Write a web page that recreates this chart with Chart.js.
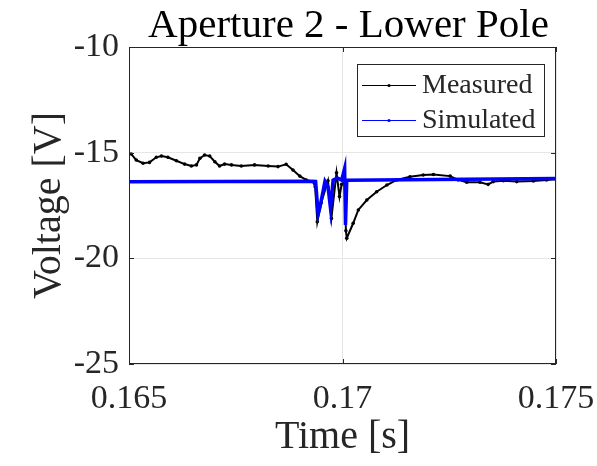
<!DOCTYPE html>
<html>
<head>
<meta charset="utf-8">
<script src="https://cdn.jsdelivr.net/npm/chart.js@4.4.1/dist/chart.umd.min.js"></script>
<style>
  html, body { margin: 0; padding: 0; background: #ffffff; }
  #wrap { width: 597px; height: 466px; }
</style>
</head>
<body>
<div id="wrap"><canvas id="c" width="597" height="466"></canvas></div>
<script>
// ---- Data ----
const titleText = "Aperture 2 - Lower Pole";
const xAxisTitle = "Time [s]";
const yAxisTitle = "Voltage [V]";
const seriesNames = ["Measured", "Simulated"];
const xTicks = [0.165, 0.17, 0.175];
const yTicks = [-25, -20, -15, -10];

const measuredTime = [
  0.16505, 0.16517, 0.16533, 0.16548, 0.16564, 0.16576, 0.16591, 0.16611, 0.1663, 0.16646,
  0.16658, 0.16666, 0.16677, 0.16689, 0.16701, 0.16712, 0.16724, 0.1674, 0.16763, 0.16794,
  0.16826, 0.16849, 0.16868, 0.16884, 0.169, 0.16915, 0.16931, 0.16936, 0.16941, 0.1695,
  0.16966, 0.16974, 0.16986, 0.16993, 0.16998, 0.17005, 0.17008, 0.1701, 0.17025, 0.17037,
  0.17057, 0.1708, 0.17104, 0.17127, 0.17158, 0.17189, 0.17213, 0.17252, 0.17271, 0.17291,
  0.17322, 0.17341, 0.17353, 0.17377, 0.17408, 0.17447, 0.17478, 0.175
];
const measuredVolt = [
  -15.06, -15.35, -15.50, -15.46, -15.22, -15.16, -15.22, -15.38, -15.54, -15.63,
  -15.58, -15.27, -15.11, -15.16, -15.43, -15.63, -15.54, -15.58, -15.63, -15.58,
  -15.63, -15.66, -15.55, -15.82, -16.11, -16.29, -16.37, -16.61, -18.27, -17.38,
  -16.33, -18.11, -15.95, -17.08, -16.50, -16.40, -18.70, -19.05, -18.34, -17.71,
  -17.24, -16.85, -16.53, -16.29, -16.14, -16.06, -16.03, -16.11, -16.29, -16.40,
  -16.40, -16.50, -16.37, -16.33, -16.37, -16.34, -16.29, -16.26
];

const simulatedTime = [
  0.165, 0.1692, 0.16937, 0.16943, 0.16947, 0.16959, 0.16966, 0.16972, 0.16978, 0.16988,
  0.16998, 0.17005, 0.17007, 0.1701, 0.175
];
const simulatedVolt = [
  -16.38, -16.35, -16.36, -17.90, -17.60, -16.35, -16.60, -17.65, -16.30, -16.20,
  -16.30, -15.74, -18.42, -16.30, -16.22
];

// ---- Layout constants ----
const FONT = "'Liberation Serif', 'Times New Roman', serif";
const PLOT_LEFT = 129, PLOT_RIGHT = 556, PLOT_TOP = 47, PLOT_BOTTOM = 364;
const W = 597, H = 466;

function toXY(xs, ys) { return xs.map((x, i) => ({ x: x, y: ys[i] })); }

// Box, inward ticks, title and in-plot legend
const matlabPlugin = {
  id: 'matlab',
  afterDatasetsDraw(chart) {
    const { ctx, chartArea: a, scales } = chart;
    ctx.save();
    // box
    ctx.strokeStyle = '#262626';
    ctx.lineWidth = 1;
    ctx.strokeRect(Math.round(a.left) + 0.5, Math.round(a.top) + 0.5,
                   Math.round(a.right - a.left) - 1, Math.round(a.bottom - a.top) - 1);
    // inward ticks
    const tl = 5;
    ctx.beginPath();
    xTicks.forEach(v => {
      const px = Math.round(scales.x.getPixelForValue(v)) + 0.5;
      ctx.moveTo(px, a.bottom); ctx.lineTo(px, a.bottom - tl);
      ctx.moveTo(px, a.top); ctx.lineTo(px, a.top + tl);
    });
    yTicks.forEach(v => {
      const py = Math.round(scales.y.getPixelForValue(v)) + 0.5;
      ctx.moveTo(a.left, py); ctx.lineTo(a.left + tl, py);
      ctx.moveTo(a.right, py); ctx.lineTo(a.right - tl, py);
    });
    ctx.stroke();

    // legend
    const lx = 357, ly = 64, lw = 187, lh = 72;
    ctx.fillStyle = '#ffffff';
    ctx.fillRect(lx, ly, lw, lh);
    ctx.strokeStyle = '#262626';
    ctx.strokeRect(lx + 0.5, ly + 0.5, lw, lh);
    ctx.font = "28px " + FONT;
    ctx.textBaseline = 'middle';
    ctx.textAlign = 'left';
    chart.data.datasets.forEach((ds, i) => {
      const yy = ly + 21 + i * 35;
      ctx.strokeStyle = ds.borderColor;
      ctx.lineWidth = 1;
      ctx.beginPath();
      ctx.moveTo(362, yy + 0.5); ctx.lineTo(416, yy + 0.5);
      ctx.stroke();
      ctx.fillStyle = ds.borderColor;
      ctx.beginPath();
      ctx.arc(389, yy + 0.5, 1.6, 0, Math.PI * 2);
      ctx.fill();
      ctx.fillStyle = '#262626';
      ctx.fillText(ds.label, 422, yy + 1);
    });

    // title
    ctx.font = "41px " + FONT;
    ctx.fillStyle = '#000000';
    ctx.textAlign = 'center';
    ctx.textBaseline = 'alphabetic';
    ctx.fillText(titleText, (a.left + a.right) / 2 + 6, 37);
    ctx.restore();
  }
};

new Chart(document.getElementById('c'), {
  type: 'scatter',
  data: {
    datasets: [
      {
        label: seriesNames[0],
        data: toXY(measuredTime, measuredVolt),
        showLine: true,
        borderColor: '#000000',
        backgroundColor: '#000000',
        borderWidth: 2,
        pointRadius: 1.8,
        pointHoverRadius: 1.8,
        pointBorderWidth: 0,
        tension: 0,
        order: 2
      },
      {
        label: seriesNames[1],
        data: toXY(simulatedTime, simulatedVolt),
        showLine: true,
        borderColor: '#0000ff',
        backgroundColor: '#0000ff',
        borderWidth: 3.5,
        pointRadius: 0,
        tension: 0,
        order: 1
      }
    ]
  },
  options: {
    responsive: false,
    animation: false,
    devicePixelRatio: 1,
    layout: { padding: { left: 0, right: W - PLOT_RIGHT, top: PLOT_TOP, bottom: 0 } },
    plugins: {
      legend: { display: false },
      title: { display: false },
      tooltip: { enabled: false }
    },
    scales: {
      x: {
        type: 'linear',
        min: 0.165, max: 0.175,
        afterBuildTicks(scale) { scale.ticks = xTicks.map(v => ({ value: v })); },
        afterFit(scale) {
          scale.height = H - PLOT_BOTTOM;
          scale.paddingLeft = 0;
          scale.paddingRight = 0;
        },
        ticks: {
          color: '#262626',
          font: { family: FONT, size: 34 },
          padding: 15,
          maxRotation: 0,
          autoSkip: false,
          callback: v => String(v)
        },
        grid: {
          drawTicks: false,
          color: '#e6e6e6',
          lineWidth: 1
        },
        border: { display: false },
        title: {
          display: true,
          text: xAxisTitle,
          color: '#262626',
          font: { family: FONT, size: 40 },
          padding: { top: 0, bottom: 5 }
        }
      },
      y: {
        type: 'linear',
        min: -25, max: -10,
        afterBuildTicks(scale) { scale.ticks = yTicks.map(v => ({ value: v })); },
        afterFit(scale) {
          scale.width = PLOT_LEFT;
          scale.paddingTop = 0;
          scale.paddingBottom = 0;
        },
        ticks: {
          color: '#262626',
          font: { family: FONT, size: 34 },
          padding: 10,
          callback: v => String(v)
        },
        grid: {
          drawTicks: false,
          color: '#e6e6e6',
          lineWidth: 1
        },
        border: { display: false },
        title: {
          display: true,
          text: yAxisTitle,
          color: '#262626',
          font: { family: FONT, size: 40 },
          padding: { top: 25, bottom: 0 }
        }
      }
    }
  },
  plugins: [matlabPlugin]
});
</script>
</body>
</html>
